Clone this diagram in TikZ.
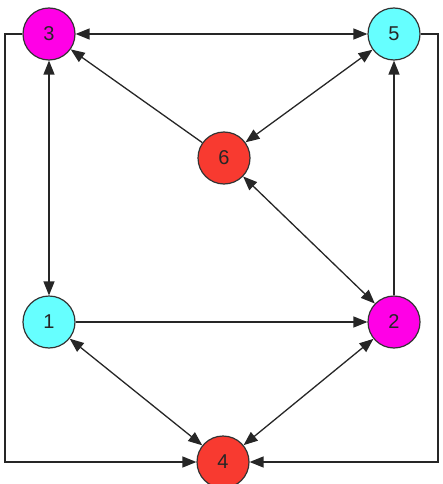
\documentclass[tikz,border=0pt]{standalone}
\usepackage{fontspec}
\setmainfont{Liberation Sans}
\usetikzlibrary{arrows.meta}
\definecolor{nmag}{HTML}{FF00E6}
\definecolor{ncyan}{HTML}{66FFFF}
\definecolor{nred}{HTML}{F83A30}
\definecolor{nline}{HTML}{333333}
\tikzset{
  vert/.style={circle, draw=nline, line width=1.2pt, minimum size=52pt, inner sep=0pt, font=\fontsize{20}{24}\selectfont, text=black!85},
  conn/.style={line width=1.3pt, draw=black!85, >={Triangle[length=14pt,width=11pt]}}
}
\begin{document}
\begin{tikzpicture}[x=1pt,y=-1pt]
\useasboundingbox (0,0) rectangle (443,484);
\node[vert, fill=nmag] (n3) at (49,34) {3};
\node[vert, fill=ncyan] (n5) at (394,34) {5};
\node[vert, fill=nred] (n6) at (224,158) {6};
\node[vert, fill=ncyan] (n1) at (49,322) {1};
\node[vert, fill=nmag] (n2) at (394,322) {2};
\node[vert, fill=nred] (n4) at (223,462) {4};
\coordinate (tl) at (5,34);
\coordinate (bl) at (5,462);
\coordinate (tr) at (438,34);
\coordinate (br) at (438,462);
\draw[conn,<->] (n3) -- (n5);
\draw[conn,<->] (n3) -- (n1);
\draw[conn,->] (n6) -- (n3);
\draw[conn,<->] (n6) -- (n5);
\draw[conn,<->] (n6) -- (n2);
\draw[conn,->] (n2) -- (n5);
\draw[conn,->] (n1) -- (n2);
\draw[conn,<->] (n1) -- (n4);
\draw[conn,<->] (n2) -- (n4);
\draw[conn,->] (n3.west) -- (tl) -- (bl) -- (n4.west);
\draw[conn,->] (n5.east) -- (tr) -- (br) -- (n4.east);
\end{tikzpicture}
\end{document}
